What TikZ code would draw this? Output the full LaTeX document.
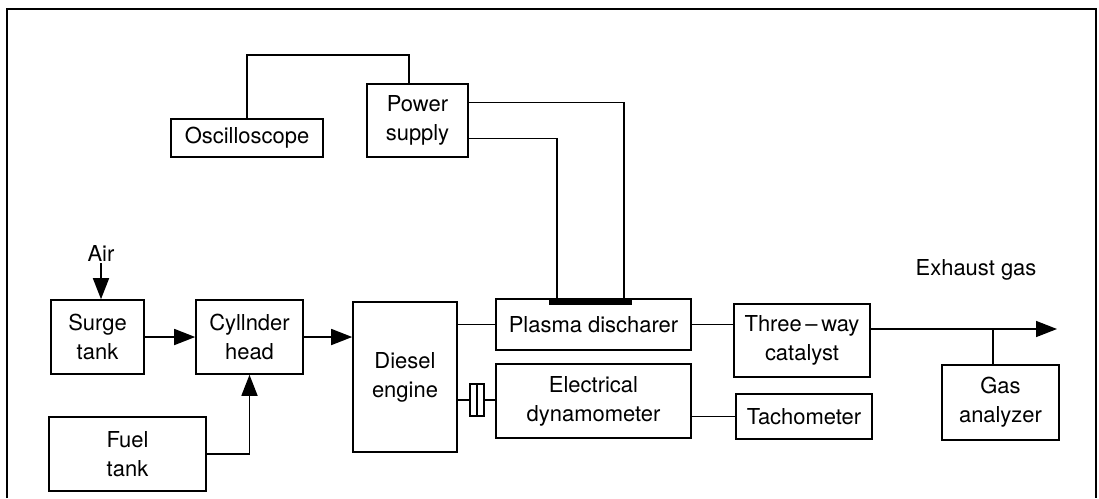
\documentclass[tikz,border=0pt]{standalone}
\usepackage{fontspec}
\setmainfont{TeX Gyre Heros}
\usetikzlibrary{arrows.meta,calc}

\tikzset{
  box/.style={draw, line width=0.9pt, inner sep=0pt, align=center,
    font=\fontsize{12.5}{16.5}\selectfont},
  boxsize/.style 2 args={minimum width=#1*0.02cm, minimum height=#2*0.02cm},
  wire/.style={line width=0.9pt},
  flow/.style={line width=0.9pt, -{Triangle[length=0.42cm,width=0.32cm]}},
  lbl/.style={font=\fontsize{12.5}{16.5}\selectfont, inner sep=1pt}
}

\begin{document}
\begin{tikzpicture}[x=0.02cm, y=-0.02cm]
  \useasboundingbox (0,0) rectangle (1099,498);
  % frame
  \draw[wire] (7,498) -- (7,9) -- (1096,9) -- (1096,498);

  % blocks
  \node[box, boxsize={152}{38}] (osc) at (247,138) {Oscilloscope};
  \node[box, boxsize={101}{73}] (ps) at (417.5,120.5) {Power\\supply};
  \node[box, boxsize={93}{74}] (surge) at (97.5,337) {Surge\\tank};
  \node[box, boxsize={107}{74}] (cyl) at (249.5,337) {Cyllnder\\head};
  \node[box, boxsize={157}{74}] (fuel) at (127.5,454) {Fuel\\tank};
  \node[box, boxsize={104}{150}] (diesel) at (405,377) {Diesel\\engine};
  \node[box, boxsize={195}{51}] (plasma) at (593.5,324.5) {Plasma discharer};
  \node[box, boxsize={195}{74}] (dyn) at (593.5,401) {Electrical\\dynamometer};
  \node[box, boxsize={14}{32}] (cpl) at (477,400) {};
  \node[box, boxsize={136}{73}] (three) at (802,340.5) {Three\,--\,way\\catalyst};
  \node[box, boxsize={136}{45}] (tach) at (804,416.5) {Tachometer};
  \node[box, boxsize={117}{75}] (gas) at (1000.5,402.5) {Gas\\analyzer};

  \node[lbl] (air) at (101,253) {Air};
  \node[lbl] (exh) at (976,270) {Exhaust gas};

  \coordinate (osctop) at (409,55);
  \coordinate (eL) at (557,299);
  \coordinate (eR) at (624,299);
  \coordinate (out) at (1057,329);
  \coordinate (tap) at (993,329);

  % electrode
  \fill (549,298) rectangle (632,305);

  % gas flow
  \draw[flow] (air.south) -- (air.south |- surge.north);
  \draw[flow] (surge.east) -- (cyl.west);
  \draw[flow] (cyl.east) -- (cyl.east -| diesel.west);
  \draw[flow] (fuel.east) -| (cyl.south);
  \draw[wire] (diesel.east |- plasma.west) -- (plasma.west);
  \draw[wire] (plasma.east) -- (plasma.east -| three.west);
  \draw[flow] (three.east |- out) -- (out);
  \draw[wire] (tap) -- (tap |- gas.north);

  % power and measurement
  \draw[wire] (osc.north) |- (osctop) -- (osctop |- ps.north);
  \draw[wire] ($(ps.east)+(0,-18)$) -| (eR);
  \draw[wire] ($(ps.east)+(0,18)$) -| (eL);

  % shaft with coupling
  \draw[wire] (diesel.east |- cpl.west) -- (cpl.west);
  \draw[wire] (cpl.north) -- (cpl.south);
  \draw[wire] (cpl.east) -- (dyn.west |- cpl.east);
  \draw[wire] (dyn.east |- tach.west) -- (tach.west);
\end{tikzpicture}
\end{document}
